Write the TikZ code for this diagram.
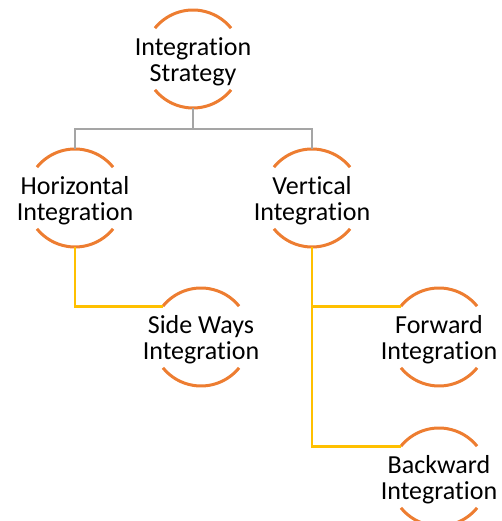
\documentclass[tikz,border=0pt]{standalone}
\usepackage{fontspec}
\setmainfont{Carlito}[Ligatures={NoCommon}]
\usetikzlibrary{positioning}

% colours of the chart
\definecolor{ringorange}{HTML}{ED7D31}
\definecolor{busgray}{HTML}{A5A5A5}
\definecolor{linkyellow}{HTML}{FFC000}

\tikzset{
  topic/.style={align=center, inner sep=0pt, font=\fontsize{26}{26}\selectfont},
  ring/.style={ringorange, line width=3pt},
  graylink/.style={busgray, line width=2.8pt},
  yellowlink/.style={linkyellow, line width=2.8pt}
}

\begin{document}
\begin{tikzpicture}[x=1pt, y=1pt]
    \useasboundingbox (0,0) rectangle (501,521);

    % topics (text sits a little low in its ring)
    \node[topic] (strat) at (193,459) {Integration\\Strategy};
    \node[topic] (hor)   at (75,320)  {Horizontal\\Integration};
    \node[topic] (ver)   at (312,320) {Vertical\\Integration};
    \node[topic] (side)  at (201,181) {Side Ways\\Integration};
    \node[topic] (fwd)   at (439,181) {Forward\\Integration};
    \node[topic] (back)  at (439,41)  {Backward\\Integration};

    % broken rings round each topic
    \foreach \n in {strat,hor,ver,side,fwd,back}{
      \coordinate (\n-c)   at ([yshift=3pt]\n.center);
      \coordinate (\n-tl)  at ([shift={(141:49pt)}]\n-c);
      \coordinate (\n-top) at ([shift={(90:49pt)}]\n-c);
      \coordinate (\n-bot) at ([shift={(-90:49pt)}]\n-c);
      \draw[ring] (\n-tl) arc[start angle=141, end angle=39, radius=49pt];
      \draw[ring] ([shift={(-39:49pt)}]\n-c) arc[start angle=-39, end angle=-141, radius=49pt];
    }

    % first level (gray)
    \draw[graylink] (strat-bot) -- ++(0,-21) coordinate (bus);
    \draw[graylink] (hor-top) |- (bus) -| (ver-top);

    % second level (yellow)
    \draw[yellowlink] (hor-bot) |- (side-tl);
    \draw[yellowlink] (ver-bot) |- (back-tl);
    \draw[yellowlink] (ver-bot |- fwd-tl) -- (fwd-tl);
\end{tikzpicture}
\end{document}
